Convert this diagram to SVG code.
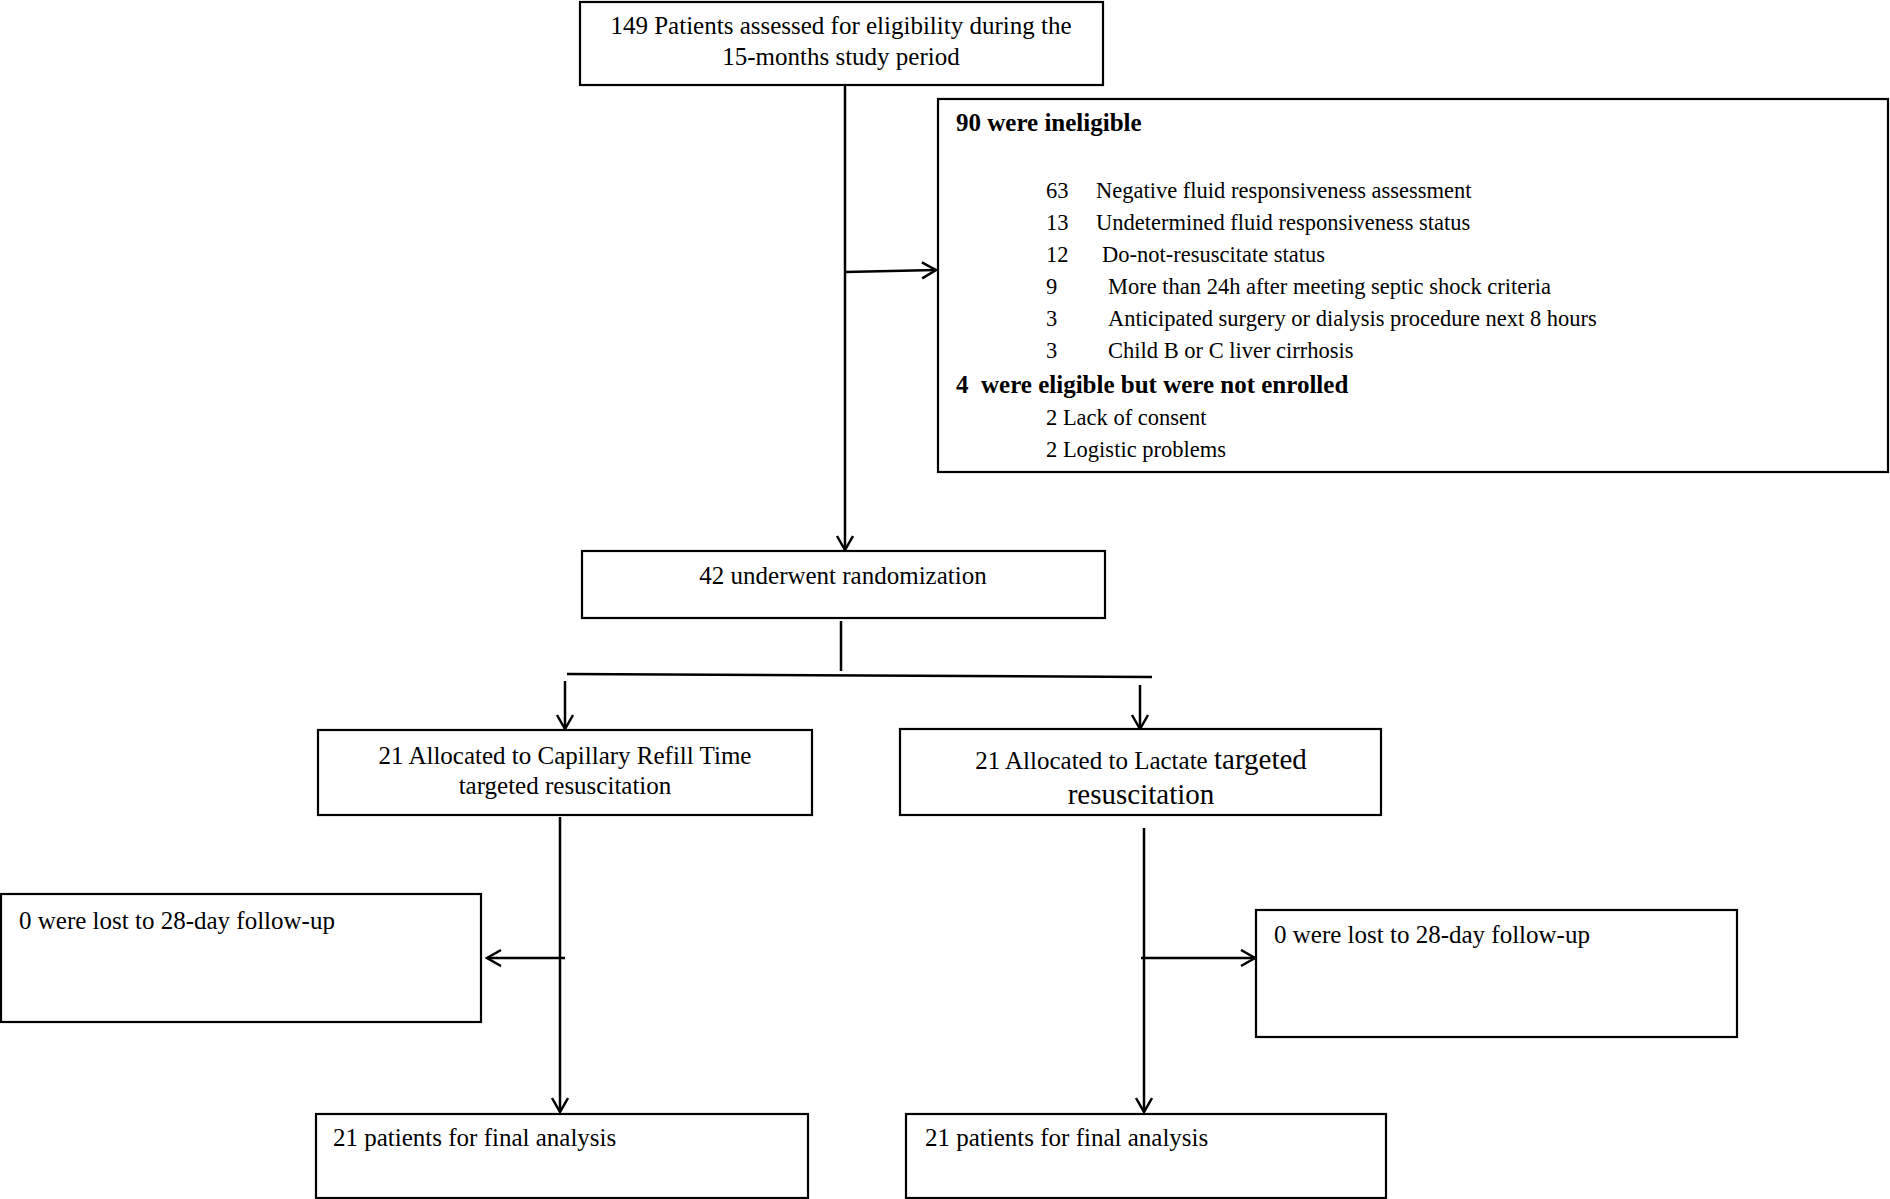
<svg xmlns="http://www.w3.org/2000/svg" width="1890" height="1199" viewBox="0 0 1890 1199">
<style>
  .box { fill: #fff; stroke: #000; stroke-width: 2.2; }
  .t { font-family: "Liberation Serif", "Times New Roman", serif; font-size: 25px; fill: #000; }
  .s { font-family: "Liberation Serif", "Times New Roman", serif; font-size: 22.5px; fill: #000; }
  .b { font-family: "Liberation Serif", "Times New Roman", serif; font-size: 25px; font-weight: bold; fill: #000; }
  .big { font-size: 29px; }
  .c { text-anchor: middle; }
  .ln { fill: none; stroke: #000; stroke-width: 2.5; }
</style>
<defs>
  <marker id="arr" markerUnits="userSpaceOnUse" markerWidth="18" markerHeight="20" refX="15" refY="9" orient="auto">
    <path d="M1,1 L15,9 L1,17" fill="none" stroke="#000" stroke-width="2.5"/>
  </marker>
</defs>
<rect width="1890" height="1199" fill="#fff"/>

<g id="connectors">
  <line class="ln" x1="845" y1="86" x2="845" y2="550" marker-end="url(#arr)"/>
  <line class="ln" x1="845" y1="272" x2="936" y2="270" marker-end="url(#arr)"/>
  <line class="ln" x1="841" y1="621" x2="841" y2="671"/>
  <line class="ln" x1="567" y1="674" x2="1152" y2="677"/>
  <line class="ln" x1="565" y1="681" x2="565" y2="729" marker-end="url(#arr)"/>
  <line class="ln" x1="1140" y1="685" x2="1140" y2="729" marker-end="url(#arr)"/>
  <line class="ln" x1="560" y1="817" x2="560" y2="1112" marker-end="url(#arr)"/>
  <line class="ln" x1="565" y1="958" x2="487" y2="958" marker-end="url(#arr)"/>
  <line class="ln" x1="1144" y1="828" x2="1144" y2="1112" marker-end="url(#arr)"/>
  <line class="ln" x1="1141" y1="958" x2="1255" y2="958" marker-end="url(#arr)"/>
</g>

<g id="n-assessed">
  <rect class="box" x="580" y="2" width="523" height="83"/>
  <text class="t c" x="841" y="34">149 Patients assessed for eligibility during the</text>
  <text class="t c" x="841" y="65">15-months study period</text>
</g>

<g id="n-excluded">
  <rect class="box" x="938" y="99" width="950" height="373"/>
  <text class="b" x="956" y="131">90 were ineligible</text>
  <text class="s" x="1046" y="198">63</text><text class="s" x="1096" y="198">Negative fluid responsiveness assessment</text>
  <text class="s" x="1046" y="230">13</text><text class="s" x="1096" y="230">Undetermined fluid responsiveness status</text>
  <text class="s" x="1046" y="262">12</text><text class="s" x="1102" y="262">Do-not-resuscitate status</text>
  <text class="s" x="1046" y="294">9</text><text class="s" x="1108" y="294">More than 24h after meeting septic shock criteria</text>
  <text class="s" x="1046" y="326">3</text><text class="s" x="1108" y="326">Anticipated surgery or dialysis procedure next 8 hours</text>
  <text class="s" x="1046" y="358">3</text><text class="s" x="1108" y="358">Child B or C liver cirrhosis</text>
  <text class="b" x="956" y="393" xml:space="preserve">4  were eligible but were not enrolled</text>
  <text class="s" x="1046" y="425">2 Lack of consent</text>
  <text class="s" x="1046" y="457">2 Logistic problems</text>
</g>

<g id="n-randomized">
  <rect class="box" x="582" y="551" width="523" height="67"/>
  <text class="t c" x="843" y="584">42 underwent randomization</text>
</g>

<g id="n-crt">
  <rect class="box" x="318" y="730" width="494" height="85"/>
  <text class="t c" x="565" y="764">21 Allocated to Capillary Refill Time</text>
  <text class="t c" x="565" y="794">targeted resuscitation</text>
</g>

<g id="n-lactate">
  <rect class="box" x="900" y="729" width="481" height="86"/>
  <text class="t c" x="1141" y="769">21 Allocated to Lactate <tspan class="big">targeted</tspan></text>
  <text class="t c big" x="1141" y="804">resuscitation</text>
</g>

<g id="n-lost-crt">
  <rect class="box" x="1" y="894" width="480" height="128"/>
  <text class="t" x="19" y="929">0 were lost to 28-day follow-up</text>
</g>

<g id="n-lost-lactate">
  <rect class="box" x="1256" y="910" width="481" height="127"/>
  <text class="t" x="1274" y="943">0 were lost to 28-day follow-up</text>
</g>

<g id="n-final-crt">
  <rect class="box" x="316" y="1114" width="492" height="84"/>
  <text class="t" x="333" y="1146">21 patients for final analysis</text>
</g>

<g id="n-final-lactate">
  <rect class="box" x="906" y="1114" width="480" height="84"/>
  <text class="t" x="925" y="1146">21 patients for final analysis</text>
</g>
</svg>
